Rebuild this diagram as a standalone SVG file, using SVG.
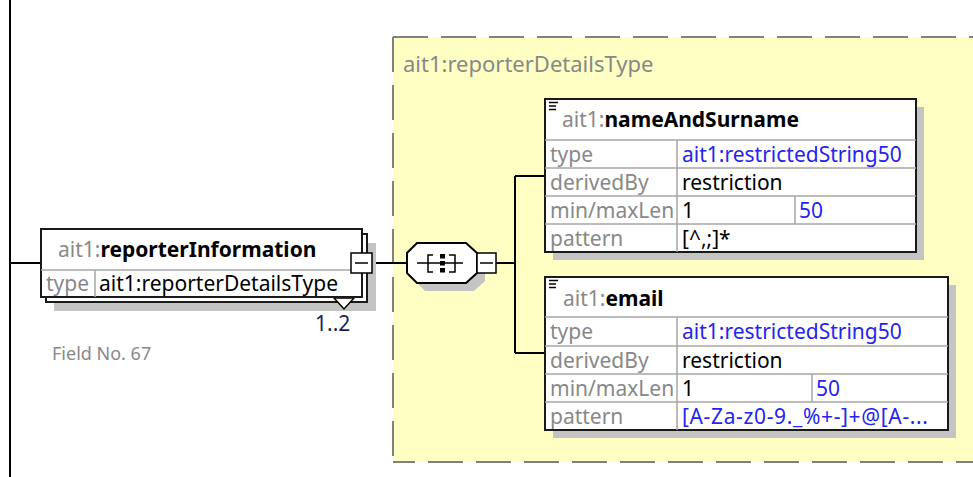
<svg xmlns="http://www.w3.org/2000/svg" width="973" height="477" viewBox="0 0 973 477">
<style>
text{font-family:"Noto Sans","Open Sans","Liberation Sans",sans-serif;font-size:21px;fill:#000}
.g{fill:#888}
.b{font-weight:bold;fill:#000}
.bl{fill:#2424f0}
.box{fill:#fff;stroke:#1a1a1a;stroke-width:2}
.dv{stroke:#a6a6a6;stroke-width:1.5;fill:none}
.sh{fill:#c4c4c4}
.ln{stroke:#000;stroke-width:2;fill:none}
.mb{fill:#fff;stroke:#000;stroke-width:1.5}
.dash{stroke:#808080;stroke-width:2;fill:none;stroke-dasharray:35 13}
.ic{stroke:#000;stroke-width:1.5;fill:none}
</style>
<rect width="973" height="477" fill="#fff"/>
<g id="container">
<rect x="393" y="37" width="590" height="425" fill="#FFFFC4"/>
<path class="dash" d="M393 37 H980"/>
<path class="dash" d="M393 37 V462"/>
<path class="dash" d="M393 462 H980" stroke-dashoffset="13"/>
<text x="403" y="72" class="g" style="font-size:22px">ait1:reporterDetailsType</text>
</g>
<g id="connectors">
<path class="ln" d="M10 0 V477"/>
<path class="ln" d="M10 263 H41"/>
<path class="ln" d="M372 263 H407"/>
<path class="ln" d="M496 263 H515"/>
<path class="ln" d="M515 176 V353"/>
<path class="ln" d="M515 176 H546"/>
<path class="ln" d="M515 353 H545"/>
</g>
<g id="reporterInformation">
<rect class="sh" x="54" y="243" width="322" height="68"/>
<rect class="box" x="46" y="234" width="321" height="68"/>
<polygon points="334,298 344,309 354,298" fill="#fff" stroke="#000" stroke-width="1.5"/>
<rect class="box" x="41" y="229" width="321" height="68"/>
<path class="dv" d="M41 270 H362 M95 270 V297"/>
<text x="58" y="257"><tspan class="g">ait1:</tspan><tspan class="b">reporterInformation</tspan></text>
<text x="46" y="291" class="g">type</text>
<text x="99" y="291">ait1:reporterDetailsType</text>
<rect class="mb" x="351" y="253" width="21" height="20"/>
<path class="ic" d="M355 263 H368"/>
<text x="315" y="331" style="fill:#1e1e5a">1..2</text>
<text x="52" y="360" class="g" style="font-size:18px">Field No. 67</text>
</g>
<g id="sequence">
<polygon class="sh" points="425,251 474,251 485,261 485,281 474,291 425,291 415,281 415,261"/>
<polygon points="417,243 466,243 477,253 477,273 466,283 417,283 407,273 407,253" fill="#fff" stroke="#000" stroke-width="2"/>
<path class="ic" d="M417 263 H440 M433 255 H428 V272 H433 M445 263 H463 M449 255 H455 V272 H449"/>
<rect x="440" y="254" width="5" height="4.5" fill="#000"/>
<rect x="440" y="261" width="5" height="4.5" fill="#000"/>
<rect x="440" y="268" width="5" height="4.5" fill="#000"/>
<rect class="mb" x="477" y="253" width="19" height="20"/>
<path class="ic" d="M480 263 H493"/>
</g>
<g id="nameAndSurname">
<rect class="sh" x="553" y="107" width="371" height="153"/>
<rect class="box" x="545" y="99" width="371" height="153"/>
<path class="dv" d="M545 140 H916 M545 168 H916 M545 196 H916 M545 224 H916 M677 140 V252 M795 196 V224"/>
<path class="ic" d="M549 102.5 H558 M549 106 H556 M549 109.5 H556"/>
<text x="562" y="127"><tspan class="g">ait1:</tspan><tspan class="b">nameAndSurname</tspan></text>
<text x="550" y="162" class="g">type</text>
<text x="682" y="162" class="bl">ait1:restrictedString50</text>
<text x="550" y="190" class="g">derivedBy</text>
<text x="682" y="190">restriction</text>
<text x="550" y="218" class="g">min/maxLen</text>
<text x="682" y="218">1</text>
<text x="799" y="218" class="bl">50</text>
<text x="550" y="246" class="g">pattern</text>
<text x="682" y="246">[^,;]*</text>
</g>
<g id="email">
<rect class="sh" x="553" y="285" width="403" height="153"/>
<rect class="box" x="545" y="277" width="403" height="153"/>
<path class="dv" d="M545 317 H948 M545 346 H948 M545 374 H948 M545 402 H948 M677 317 V430 M812 374 V402"/>
<path class="ic" d="M549 280.5 H558 M549 284 H556 M549 287.5 H556"/>
<text x="563" y="306"><tspan class="g">ait1:</tspan><tspan class="b">email</tspan></text>
<text x="550" y="339" class="g">type</text>
<text x="682" y="339" class="bl">ait1:restrictedString50</text>
<text x="550" y="368" class="g">derivedBy</text>
<text x="682" y="368">restriction</text>
<text x="550" y="396" class="g">min/maxLen</text>
<text x="682" y="396">1</text>
<text x="816" y="396" class="bl">50</text>
<text x="550" y="424" class="g">pattern</text>
<text x="682" y="424" class="bl" textLength="246" lengthAdjust="spacing">[A-Za-z0-9._%+-]+@[A-...</text>
</g>
</svg>
